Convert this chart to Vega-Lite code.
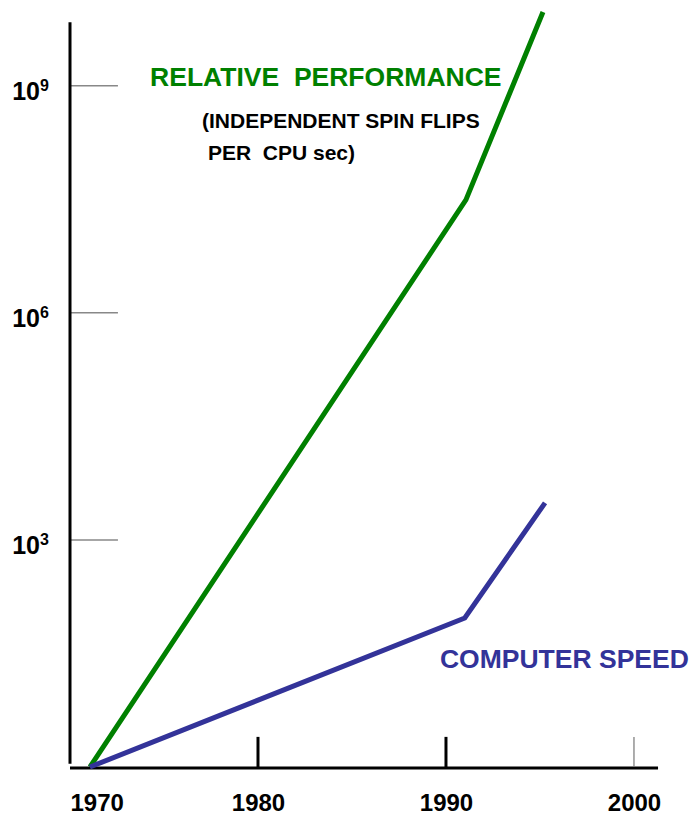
{
  "$schema": "https://vega.github.io/schema/vega-lite/v6.json",
  "autosize": {"type": "none"},
  "width": 623,
  "height": 757,
  "padding": {"left": 70, "top": 10, "right": 0, "bottom": 54},
  "background": "white",
  "config": {"view": {"stroke": null}, "font": "Liberation Sans"},
  "datasets": {
    "series": [
      {"year": 1971.06, "value": 1, "series": "RELATIVE PERFORMANCE"},
      {"year": 1991.06, "value": 31000000, "series": "RELATIVE PERFORMANCE"},
      {"year": 1995.16, "value": 9400000000, "series": "RELATIVE PERFORMANCE"},
      {"year": 1971.06, "value": 1, "series": "COMPUTER SPEED"},
      {"year": 1991.0, "value": 93, "series": "COMPUTER SPEED"},
      {"year": 1995.27, "value": 3090, "series": "COMPUTER SPEED"}
    ],
    "yticks": [{"value": 1000, "base": "10", "exp": "3"}, {"value": 1000000, "base": "10", "exp": "6"}, {"value": 1000000000, "base": "10", "exp": "9"}],
    "xticks": [{"year": 1980, "kind": "major"}, {"year": 1990, "kind": "major"}, {"year": 2000, "kind": "minor"}],
    "one": [{}]
  },
  "layer": [
    {
      "data": {"name": "yticks"},
      "mark": {"type": "rule", "color": "#888888", "strokeWidth": 1.5},
      "encoding": {
        "x": {"datum": 1970, "type": "quantitative", "scale": {"domain": [1970, 2003.14], "nice": false, "zero": false},
          "axis": {"values": [1970, 1980, 1990, 2000], "format": "d", "ticks": false, "domain": false, "grid": false, "title": null,
            "labelFontSize": 24, "labelFontWeight": "bold", "labelColor": "black", "labelPadding": 43, "labelBaseline": "alphabetic", "labelFont": "Liberation Sans"}},
        "x2": {"datum": 1972.55},
        "y": {"field": "value", "type": "quantitative", "scale": {"type": "log", "domain": [1, 10000000000], "nice": false}, "axis": null}
      }
    },
    {
      "data": {"name": "yticks"},
      "mark": {"type": "text", "align": "right", "baseline": "alphabetic", "dx": -30, "dy": 14, "fontSize": 25, "fontWeight": "bold", "color": "black", "font": "Liberation Sans"},
      "encoding": {
        "x": {"datum": 1970},
        "y": {"field": "value", "type": "quantitative"},
        "text": {"field": "base"}
      }
    },
    {
      "data": {"name": "yticks"},
      "mark": {"type": "text", "align": "left", "baseline": "alphabetic", "dx": -30, "dy": 5, "fontSize": 16, "fontWeight": "bold", "color": "black", "font": "Liberation Sans"},
      "encoding": {
        "x": {"datum": 1970},
        "y": {"field": "value", "type": "quantitative"},
        "text": {"field": "exp"}
      }
    },
    {
      "data": {"name": "one"},
      "mark": {"type": "rule", "color": "black", "strokeWidth": 3},
      "encoding": {
        "x": {"datum": 1970},
        "y": {"datum": 1.1},
        "y2": {"datum": 6900000000}
      }
    },
    {
      "data": {"name": "one"},
      "mark": {"type": "rule", "color": "black", "strokeWidth": 3},
      "encoding": {
        "x": {"datum": 1970},
        "x2": {"datum": 2001.28},
        "y": {"datum": 0.97}
      }
    },
    {
      "data": {"name": "xticks"},
      "mark": {"type": "rule"},
      "encoding": {
        "x": {"field": "year", "type": "quantitative"},
        "y": {"datum": 1},
        "y2": {"datum": 2.5},
        "color": {"field": "kind", "type": "nominal", "scale": {"domain": ["major", "minor"], "range": ["black", "#777777"]}, "legend": null},
        "strokeWidth": {"field": "kind", "type": "nominal", "scale": {"domain": ["major", "minor"], "range": [3, 1.2]}, "legend": null}
      }
    },
    {
      "data": {"name": "series"},
      "mark": {"type": "line", "strokeWidth": 5, "strokeCap": "butt"},
      "encoding": {
        "x": {"field": "year", "type": "quantitative"},
        "y": {"field": "value", "type": "quantitative"},
        "stroke": {"field": "series", "type": "nominal", "scale": {"domain": ["RELATIVE PERFORMANCE", "COMPUTER SPEED"], "range": ["#008000", "#333399"]}, "legend": null}
      }
    },
    {
      "data": {"name": "one"},
      "mark": {"type": "text", "align": "left", "baseline": "alphabetic", "fontSize": 26.5, "fontWeight": "bold", "color": "#008000", "font": "Liberation Sans"},
      "encoding": {"x": {"datum": 1974.26}, "y": {"datum": 1000000000}, "text": {"value": "RELATIVE\u00a0 PERFORMANCE"}}
    },
    {
      "data": {"name": "one"},
      "mark": {"type": "text", "align": "left", "baseline": "alphabetic", "fontSize": 21, "fontWeight": "bold", "color": "black", "font": "Liberation Sans"},
      "encoding": {"x": {"datum": 1977.02}, "y": {"datum": 276000000}, "text": {"value": "(INDEPENDENT SPIN FLIPS"}}
    },
    {
      "data": {"name": "one"},
      "mark": {"type": "text", "align": "left", "baseline": "alphabetic", "fontSize": 21, "fontWeight": "bold", "color": "black", "font": "Liberation Sans"},
      "encoding": {"x": {"datum": 1977.34}, "y": {"datum": 104000000}, "text": {"value": "PER\u00a0 CPU sec)"}}
    },
    {
      "data": {"name": "one"},
      "mark": {"type": "text", "align": "left", "baseline": "alphabetic", "fontSize": 26.5, "fontWeight": "bold", "color": "#333399", "font": "Liberation Sans"},
      "encoding": {"x": {"datum": 1989.68}, "y": {"datum": 20.3}, "text": {"value": "COMPUTER SPEED"}}
    }
  ]
}
